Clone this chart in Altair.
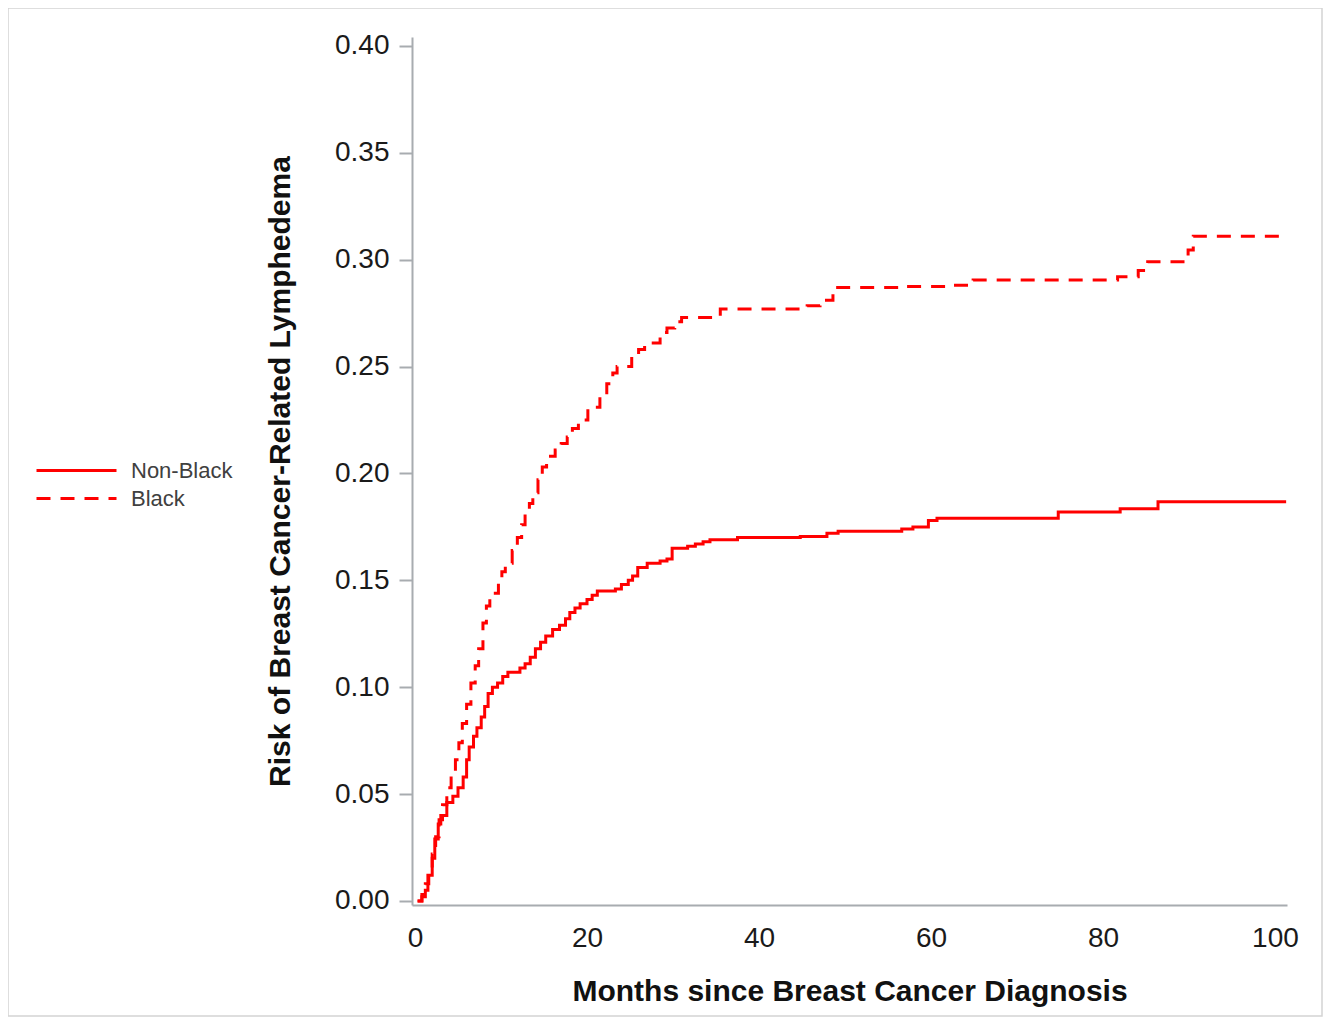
import altair as alt
import pandas as pd

# Non-Black cumulative risk (step function: month at which step occurs, value after step)
nb_month = [0.3, 0.8, 1.2, 1.5, 2.0, 2.3, 2.7, 3.0, 3.7, 4.4, 5.0, 5.6, 6.0, 6.3, 6.8, 7.2, 7.7,
            8.1, 8.5, 9.0, 9.6, 10.2, 10.8, 12.2, 12.8, 13.4, 14.0, 14.6, 15.2, 16.0, 16.8, 17.5,
            18.0, 18.6, 19.2, 20.0, 20.6, 21.2, 23.3, 24.0, 24.8, 25.3, 25.9, 27.0, 28.5, 29.3,
            29.9, 31.7, 32.6, 33.5, 34.3, 37.5, 44.8, 47.9, 49.2, 56.6, 57.9, 59.7, 60.7, 74.8,
            82.0, 86.4, 101.3]
nb_risk = [0.0, 0.002, 0.005, 0.012, 0.020, 0.029, 0.036, 0.040, 0.046, 0.049, 0.053, 0.058,
           0.066, 0.072, 0.077, 0.081, 0.086, 0.091, 0.097, 0.100, 0.102, 0.105, 0.107, 0.109,
           0.111, 0.114, 0.118, 0.121, 0.124, 0.127, 0.129, 0.132, 0.135, 0.137, 0.139, 0.141,
           0.143, 0.145, 0.146, 0.148, 0.150, 0.152, 0.156, 0.158, 0.159, 0.160, 0.165, 0.166,
           0.167, 0.168, 0.169, 0.170, 0.1705, 0.172, 0.173, 0.174, 0.175, 0.178, 0.179, 0.182,
           0.1835, 0.1868, 0.1868]

# Black cumulative risk
b_month = [0.3, 0.8, 1.2, 1.6, 2.0, 2.4, 2.8, 3.2, 3.7, 4.2, 4.7, 5.1, 5.5, 6.0, 6.5, 7.0, 7.4,
           7.9, 8.3, 8.7, 9.7, 10.1, 10.5, 11.3, 11.9, 12.4, 12.8, 13.3, 13.7, 14.3, 14.8, 15.3,
           16.3, 17.0, 17.7, 18.3, 19.0, 20.1, 21.5, 22.3, 23.0, 23.5, 25.2, 26.0, 26.7, 28.5,
           29.3, 30.2, 31.0, 35.5, 45.6, 47.1, 48.6, 56.7, 62.2, 64.9, 81.7, 84.1, 85.2, 89.9,
           90.5, 100.6]
b_risk = [0.0, 0.003, 0.008, 0.015, 0.022, 0.030, 0.038, 0.045, 0.053, 0.060, 0.066, 0.074,
          0.083, 0.092, 0.102, 0.110, 0.118, 0.130, 0.138, 0.144, 0.149, 0.154, 0.158, 0.164,
          0.170, 0.176, 0.181, 0.186, 0.191, 0.197, 0.203, 0.208, 0.211, 0.214, 0.217, 0.221,
          0.225, 0.231, 0.236, 0.242, 0.247, 0.250, 0.255, 0.258, 0.261, 0.266, 0.268, 0.271,
          0.273, 0.277, 0.2785, 0.281, 0.287, 0.2875, 0.288, 0.2905, 0.292, 0.295, 0.299,
          0.3045, 0.311, 0.311]

groups = ["Non-Black", "Black"]
x_ticks = [0, 20, 40, 60, 80, 100]
y_ticks = [0.0, 0.05, 0.10, 0.15, 0.20, 0.25, 0.30, 0.35, 0.40]

df = pd.concat([
    pd.DataFrame({"month": nb_month, "risk": nb_risk, "group": groups[0], "order": range(len(nb_month))}),
    pd.DataFrame({"month": b_month, "risk": b_risk, "group": groups[1], "order": range(len(b_month))}),
])

FONT = "Liberation Sans"
AXIS_GRAY = "#A8ACB0"

lines = alt.Chart(df).mark_line(
    interpolate="step-after", color="#FF0000", strokeWidth=3
).encode(
    x=alt.X("month:Q",
            scale=alt.Scale(domain=[-0.35, 101.4], nice=False, zero=False),
            axis=alt.Axis(values=x_ticks, format="d", ticks=False, grid=False,
                          title="Months since Breast Cancer Diagnosis",
                          labelPadding=19, titlePadding=24)),
    y=alt.Y("risk:Q",
            scale=alt.Scale(domain=[-0.0019, 0.4042], nice=False, zero=False),
            axis=alt.Axis(values=y_ticks, format=".2f", grid=False, tickSize=13,
                          title="Risk of Breast Cancer-Related Lymphedema",
                          labelPadding=10, titlePadding=39)),
    strokeDash=alt.StrokeDash("group:N",
                              scale=alt.Scale(domain=groups, range=[[1, 0], [14, 10]]),
                              legend=alt.Legend(title=None, orient="none",
                                                legendX=-377, legendY=422,
                                                symbolType="M-4,0H4", symbolSize=400,
                                                symbolStrokeWidth=3, symbolStrokeColor="#FF0000",
                                                symbolOffset=30,
                                                labelFontSize=22, labelColor="#404040",
                                                labelFont=FONT, rowPadding=5,
                                                labelOffset=43)),
    order="order:Q",
)

frame = alt.Chart(pd.DataFrame({"a": [0]})).mark_rect(
    filled=False, stroke="#D4D4D4", strokeWidth=1.5
).encode(
    x=alt.value(-404), x2=alt.value(910), y=alt.value(-29), y2=alt.value(979)
)

chart = alt.layer(frame, lines).properties(
    width=875, height=868,
    background="white",
    autosize=alt.AutoSizeParams(type="none"),
    padding={"left": 404, "top": 29, "right": 36, "bottom": 112},
).configure_view(stroke=None).configure_axis(
    domainColor=AXIS_GRAY, domainWidth=2, tickColor=AXIS_GRAY, tickWidth=2,
    labelFont=FONT, labelFontSize=28, labelColor="#1A1A1A",
    titleFont=FONT, titleFontSize=30, titleFontWeight="bold", titleColor="#111111",
)

chart.save("out.html", embed_options={"renderer": "svg", "actions": False})
